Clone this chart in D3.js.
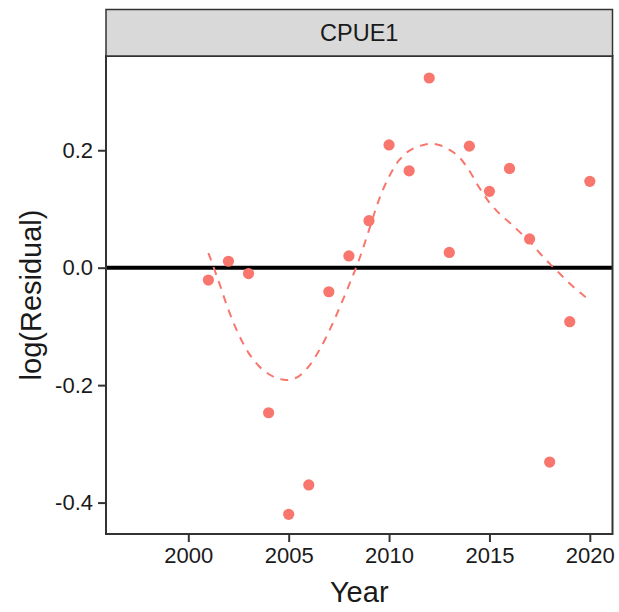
<!DOCTYPE html>
<html>
<head>
<meta charset="utf-8">
<script src="https://cdn.jsdelivr.net/npm/d3@7/dist/d3.min.js"></script>
<style>
  html, body { margin: 0; padding: 0; background: #fff; }
  svg { display: block; }
  text { font-family: "Liberation Sans", Arial, sans-serif; fill: #1a1a1a; }
</style>
</head>
<body>
<svg id="chart" width="619" height="612"></svg>
<script>
// ---- data ----
const facetLabel = "CPUE1";
const years = [2001, 2002, 2003, 2004, 2005, 2006, 2007, 2008, 2009, 2010,
               2011, 2012, 2013, 2014, 2015, 2016, 2017, 2018, 2019, 2020];
const residuals = [-0.021, 0.011, -0.010, -0.247, -0.420, -0.370, -0.041, 0.020, 0.080, 0.209,
                   0.165, 0.323, 0.026, 0.207, 0.130, 0.169, 0.049, -0.331, -0.092, 0.147];
// loess smoother
const smoothYears = [2001, 2001.5, 2002, 2002.5, 2003, 2003.5, 2004, 2004.5, 2005, 2005.5,
                     2006, 2006.5, 2007, 2007.5, 2008, 2008.5, 2009, 2009.5, 2010, 2010.5,
                     2011, 2011.5, 2012, 2012.5, 2013, 2013.5, 2014, 2014.5, 2015, 2015.5,
                     2016, 2016.5, 2017, 2017.5, 2018, 2018.5, 2019, 2019.5, 2020];
const smoothValues = [0.025, -0.022, -0.072, -0.113, -0.145, -0.167, -0.181, -0.189, -0.191, -0.185,
                      -0.168, -0.142, -0.109, -0.071, -0.030, 0.013, 0.064, 0.116, 0.155, 0.183,
                      0.199, 0.207, 0.211, 0.209, 0.201, 0.188, 0.165, 0.136, 0.111, 0.092,
                      0.077, 0.061, 0.045, 0.025, 0.007, -0.010, -0.027, -0.042, -0.056];
const xTicks = [2000, 2005, 2010, 2015, 2020];
const yTicks = [-0.4, -0.2, 0.0, 0.2];
const xTitle = "Year";
const yTitle = "log(Residual)";

// ---- layout ----
const panel = { left: 106, right: 612.5, top: 56, bottom: 534 };
const stripTop = 9.5;
const pointColor = "#F8766D";

const svg = d3.select("#chart");

const x = d3.scaleLinear().domain([1995.9, 2021.13]).range([panel.left, panel.right]);
const y = d3.scaleLinear().domain([-0.4535, 0.3605]).range([panel.bottom, panel.top]);

// panel background
svg.append("rect")
  .attr("x", panel.left).attr("y", panel.top)
  .attr("width", panel.right - panel.left).attr("height", panel.bottom - panel.top)
  .attr("fill", "#fff");

svg.append("clipPath").attr("id", "pclip").append("rect")
  .attr("x", panel.left).attr("y", panel.top)
  .attr("width", panel.right - panel.left).attr("height", panel.bottom - panel.top);

const g = svg.append("g").attr("clip-path", "url(#pclip)");

// zero line
g.append("line")
  .attr("x1", panel.left).attr("x2", panel.right)
  .attr("y1", y(0)).attr("y2", y(0))
  .attr("stroke", "#000").attr("stroke-width", 4);

// smoother
const smooth = smoothYears.map((yr, i) => [yr, smoothValues[i]]);
g.append("path")
  .datum(smooth)
  .attr("fill", "none")
  .attr("stroke", pointColor)
  .attr("stroke-width", 2)
  .attr("stroke-dasharray", "8,7")
  .attr("d", d3.line().x(d => x(d[0])).y(d => y(d[1])).curve(d3.curveCatmullRom));

// points
g.selectAll("circle.pt")
  .data(years.map((yr, i) => [yr, residuals[i]]))
  .join("circle")
  .attr("class", "pt")
  .attr("cx", d => x(d[0])).attr("cy", d => y(d[1]))
  .attr("r", 5.6)
  .attr("fill", pointColor);

// panel border
svg.append("rect")
  .attr("x", panel.left).attr("y", panel.top)
  .attr("width", panel.right - panel.left).attr("height", panel.bottom - panel.top)
  .attr("fill", "none").attr("stroke", "#333").attr("stroke-width", 2);

// strip
svg.append("rect")
  .attr("x", panel.left).attr("y", stripTop)
  .attr("width", panel.right - panel.left).attr("height", panel.top - stripTop)
  .attr("fill", "#d9d9d9").attr("stroke", "#333").attr("stroke-width", 1.5);
svg.append("text")
  .attr("x", (panel.left + panel.right) / 2)
  .attr("y", (stripTop + panel.top) / 2)
  .attr("text-anchor", "middle")
  .attr("dominant-baseline", "central")
  .attr("font-size", 23.5)
  .text(facetLabel);

// axes
const xAxis = d3.axisBottom(x).tickValues(xTicks).tickFormat(d3.format("d")).tickSize(8).tickPadding(5);
const xg = svg.append("g").attr("transform", `translate(0,${panel.bottom})`).call(xAxis);
xg.select(".domain").remove();
xg.selectAll(".tick line").attr("stroke", "#333").attr("stroke-width", 2);
xg.selectAll(".tick text").attr("font-size", 22).attr("fill", "#1a1a1a")
  .attr("font-family", "Liberation Sans, Arial, sans-serif");

const yAxis = d3.axisLeft(y).tickValues(yTicks).tickFormat(d3.format(".1f")).tickSize(8).tickPadding(5);
const yg = svg.append("g").attr("transform", `translate(${panel.left},0)`).call(yAxis);
yg.select(".domain").remove();
yg.selectAll(".tick line").attr("stroke", "#333").attr("stroke-width", 2);
yg.selectAll(".tick text").attr("font-size", 22).attr("fill", "#1a1a1a")
  .attr("font-family", "Liberation Sans, Arial, sans-serif")
  .text(d => d3.format(".1f")(d).replace("−", "-"));

// titles
svg.append("text")
  .attr("x", (panel.left + panel.right) / 2)
  .attr("y", 601.5)
  .attr("text-anchor", "middle")
  .attr("font-size", 29)
  .text(xTitle);

svg.append("text")
  .attr("transform", `translate(41,${(panel.top + panel.bottom) / 2}) rotate(-90)`)
  .attr("text-anchor", "middle")
  .attr("font-size", 29)
  .text(yTitle);
</script>
</body>
</html>
